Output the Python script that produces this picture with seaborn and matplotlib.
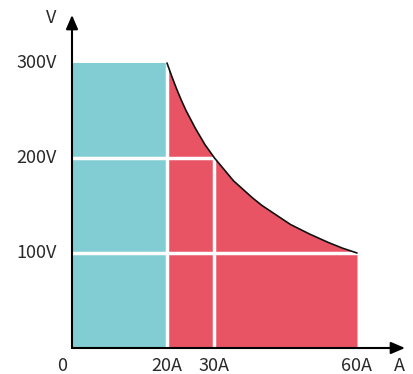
import numpy as np
import pandas as pd
import matplotlib.pyplot as plt
import seaborn as sns

# datos
corriente_cv = [0, 20]          # zona de tension constante (A)
tension_max = 300               # V
curva_a = [20, 21, 22, 23, 24, 26, 28, 30, 32, 34, 36, 38, 40, 43, 46, 50, 54, 57, 60]
curva_v = [300, 286, 273, 261, 250, 231, 214, 200, 188, 176, 167, 158, 150, 140, 130, 120, 111, 105, 100]
ticks_x = [0, 20, 30, 60]
etiquetas_x = ['0', '20A', '30A', '60A']
ticks_y = [100, 200, 300]
etiquetas_y = ['100V', '200V', '300V']
lineas_h = [(200, 30), (100, 60)]     # (tension, corriente final)
lineas_v = [(20, 300), (30, 200)]     # (corriente, tension final)

cian = '#82cdd3'
rojo = '#e85464'
texto = '#2a2a2a'

sns.set_theme(style='white')
plt.rcParams['font.family'] = ['Noto Sans CJK KR', 'DejaVu Sans']

fig = plt.figure(figsize=(4.14, 3.74), dpi=100)
ax = fig.add_axes([0, 0, 1, 1])
ax.set_xlim(-72 / 4.75, (414 - 72) / 4.75)
ax.set_ylim(-26 / 0.95, 348 / 0.95)
ax.axis('off')

df = pd.DataFrame({'I': curva_a, 'V': curva_v})

# zonas
ax.fill_between(corriente_cv, 0, tension_max, color=cian, lw=0, zorder=1)
ax.fill_between(df['I'], 0, df['V'], color=rojo, lw=0, zorder=1)
sns.lineplot(data=df, x='I', y='V', ax=ax, color='#111111', lw=1.2, zorder=3)

# rejilla blanca
for v, i_fin in lineas_h:
    ax.plot([0, i_fin], [v, v], color='white', lw=2.5, zorder=2)
for i, v_fin in lineas_v:
    ax.plot([i, i], [0, v_fin], color='white', lw=2.5, zorder=2)

# ejes con flecha
flecha = dict(arrowstyle='-|>,head_length=0.7,head_width=0.3', color='black', lw=1.5,
              shrinkA=0, shrinkB=0)
ax.annotate('', xy=(0, 348 / 0.95 - 15 / 0.95), xytext=(0, 0), arrowprops=flecha, zorder=4)
ax.annotate('', xy=(333 / 4.75, 0), xytext=(0, 0), arrowprops=flecha, zorder=4)
ax.set_xlabel('')
ax.set_ylabel('')

for t, lab in zip(ticks_x, etiquetas_x):
    ax.text(t if t else -2, -19, lab, ha='center', va='center', fontsize=13, color=texto)
for t, lab in zip(ticks_y, etiquetas_y):
    ax.text(-3.2, t, lab, ha='right', va='center', fontsize=13, color=texto)
ax.text(-3.2, 348 / 0.95 - 18 / 0.95, 'V', ha='right', va='center', fontsize=13, color=texto)
ax.text(327 / 4.75, -19, 'A', ha='center', va='center', fontsize=13, color=texto)

fig.savefig('out.png', dpi=100)
